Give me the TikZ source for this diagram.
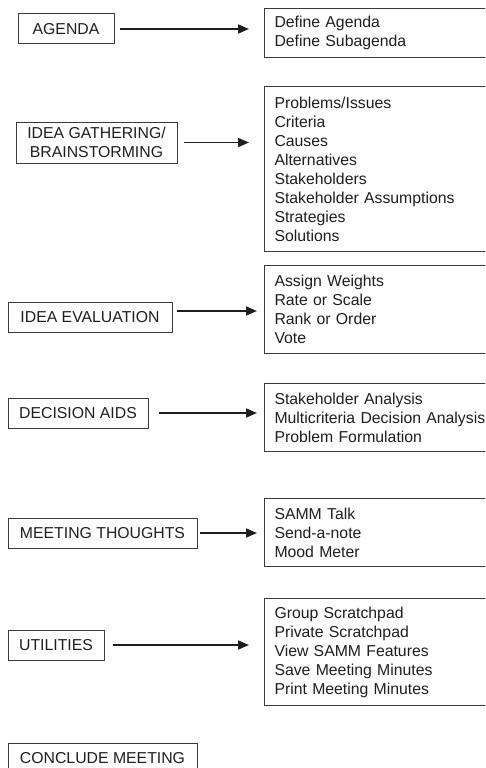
\documentclass[tikz,border=0pt]{standalone}
\usepackage{fontspec}
\setmainfont{Liberation Sans}
\usetikzlibrary{arrows.meta}
\definecolor{ink}{HTML}{1E1E1E}
\definecolor{frame}{HTML}{3A3A3A}
\begin{document}
\begin{tikzpicture}[x=1pt,y=-1pt,
  every node/.style={font=\fontsize{15.8}{19}\selectfont, text=ink},
  stage/.style={draw=frame, line width=1pt, inner sep=0pt, align=center},
  tools/.style={draw=frame, line width=1pt, anchor=north west,
    inner xsep=10pt, inner ysep=0pt, text width=240pt, align=left},
  link/.style={draw=ink, line width=1.7pt, -{Triangle[length=11pt,width=9pt]}}]
\useasboundingbox (0,0) rectangle (485,768);
\clip (0,0) rectangle (485,768);

% meeting stages
\node[stage, minimum width=96pt,  minimum height=30pt] (agenda) at (66,29) {AGENDA};
\node[stage, minimum width=161pt, minimum height=41pt] (gather) at (96.5,142.5) {IDEA GATHERING/\\BRAINSTORMING};
\node[stage, minimum width=164pt, minimum height=30pt] (evalu)  at (90,317) {IDEA EVALUATION};
\node[stage, minimum width=140pt, minimum height=30pt] (aids)   at (78,413) {DECISION AIDS};
\node[stage, minimum width=189pt, minimum height=30pt] (thought) at (102.5,533) {MEETING THOUGHTS};
\node[stage, minimum width=96pt,  minimum height=30pt] (util)   at (56,645) {UTILITIES};
\node[stage, minimum width=189pt, minimum height=30pt] (conclude) at (102.5,758) {CONCLUDE MEETING};

% tools offered at each stage
\node[tools, minimum height=49pt]  (agendaT)  at (264,8)   {Define Agenda\\Define Subagenda};
\node[tools, minimum height=165pt] (gatherT)  at (264,86)  {Problems/Issues\\Criteria\\Causes\\Alternatives\\Stakeholders\\Stakeholder Assumptions\\Strategies\\Solutions};
\node[tools, minimum height=88pt]  (evaluT)   at (264,265) {Assign Weights\\Rate or Scale\\Rank or Order\\Vote};
\node[tools, minimum height=68pt]  (aidsT)    at (264,383) {Stakeholder Analysis\\Multicriteria Decision Analysis\\Problem Formulation};
\node[tools, minimum height=68pt]  (thoughtT) at (264,498) {SAMM Talk\\Send-a-note\\Mood Meter};
\node[tools, minimum height=107pt] (utilT)    at (264,598) {Group Scratchpad\\Private Scratchpad\\View SAMM Features\\Save Meeting Minutes\\Print Meeting Minutes};

% connectors
\coordinate (s1) at ([xshift=5pt]agenda.east);
\coordinate (s2) at ([xshift=6pt]gather.east);
\coordinate (s3) at ([xshift=4pt,yshift=6pt]evalu.east);
\coordinate (s4) at ([xshift=10pt]aids.east);
\coordinate (s5) at ([xshift=2pt]thought.east);
\coordinate (s6) at ([xshift=8pt]util.east);
\draw[link, shorten >=15pt] (s1) -- (s1 -| agendaT.west);
\draw[link, shorten >=15pt] (s2) -- (s2 -| gatherT.west);
\draw[link, shorten >=7pt]  (s3) -- (s3 -| evaluT.west);
\draw[link, shorten >=7pt]  (s4) -- (s4 -| aidsT.west);
\draw[link, shorten >=7pt]  (s5) -- (s5 -| thoughtT.west);
\draw[link, shorten >=15pt] (s6) -- (s6 -| utilT.west);
\end{tikzpicture}
\end{document}
